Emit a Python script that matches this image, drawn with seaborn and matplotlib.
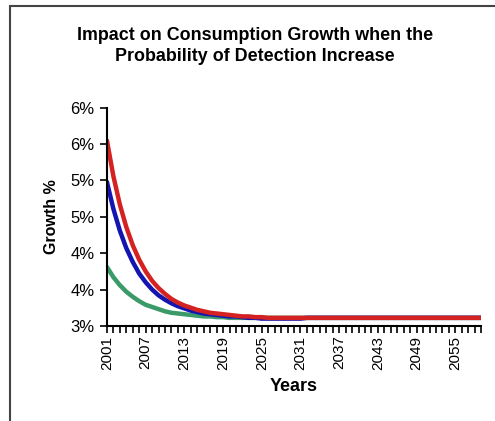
import matplotlib
matplotlib.use("Agg")
import matplotlib.pyplot as plt
import pandas as pd
import seaborn as sns
from matplotlib.patches import Rectangle
from matplotlib.ticker import FixedLocator, MultipleLocator

years = list(range(2001, 2060))

red_series = [
    5.55, 5.06, 4.67, 4.36, 4.11, 3.91, 3.75, 3.62, 3.52, 3.44,
    3.37, 3.32, 3.28, 3.25, 3.22, 3.20, 3.18, 3.17, 3.16, 3.15,
    3.14, 3.13, 3.13, 3.12, 3.12, 3.11, 3.11, 3.11, 3.11, 3.11,
    3.11, 3.11, 3.11, 3.11, 3.11, 3.11, 3.11, 3.11, 3.11, 3.11,
    3.11, 3.11, 3.11, 3.11, 3.11, 3.11, 3.11, 3.11, 3.11, 3.11,
    3.11, 3.11, 3.11, 3.11, 3.11, 3.11, 3.11, 3.11, 3.11,
]
blue_series = [
    4.98, 4.61, 4.31, 4.07, 3.88, 3.72, 3.60, 3.50, 3.42, 3.36,
    3.31, 3.27, 3.24, 3.21, 3.19, 3.17, 3.16, 3.15, 3.14, 3.13,
    3.13, 3.12, 3.11, 3.11, 3.10, 3.10, 3.10, 3.10, 3.10, 3.10,
    3.10, 3.11, 3.11, 3.11, 3.11, 3.11, 3.11, 3.11, 3.11, 3.11,
    3.11, 3.11, 3.11, 3.11, 3.11, 3.11, 3.11, 3.11, 3.11, 3.11,
    3.11, 3.11, 3.11, 3.11, 3.11, 3.11, 3.11, 3.11, 3.11,
]
green_series = [
    3.81, 3.67, 3.56, 3.47, 3.40, 3.34, 3.29, 3.26, 3.23, 3.20,
    3.18, 3.17, 3.16, 3.15, 3.14, 3.13, 3.13, 3.12, 3.12, 3.11,
    3.11, 3.11, 3.11, 3.11, 3.11, 3.11, 3.11, 3.11, 3.11, 3.11,
    3.11, 3.11, 3.11, 3.11, 3.11, 3.11, 3.11, 3.11, 3.11, 3.11,
    3.11, 3.11, 3.11, 3.11, 3.11, 3.11, 3.11, 3.11, 3.11, 3.11,
    3.11, 3.11, 3.11, 3.11, 3.11, 3.11, 3.11, 3.11, 3.11,
]

series_names = ["Green", "Blue", "Red"]
series_colors = ["#3a9a68", "#1414b0", "#d42222"]

y_ticks = [3.0, 3.5, 4.0, 4.5, 5.0, 5.5, 6.0]
y_tick_labels = ["3%", "4%", "4%", "5%", "5%", "6%", "6%"]
x_tick_years = [2001, 2007, 2013, 2019, 2025, 2031, 2037, 2043, 2049, 2055]

data = pd.DataFrame({
    "Year": years * 3,
    "Growth": green_series + blue_series + red_series,
    "Series": ["Green"] * len(years) + ["Blue"] * len(years) + ["Red"] * len(years),
})

sns.set_theme(style="white")
plt.rcParams["font.family"] = ["Liberation Sans", "DejaVu Sans"]
plt.rcParams["text.color"] = "black"
plt.rcParams["axes.labelcolor"] = "black"
plt.rcParams["xtick.color"] = "black"
plt.rcParams["ytick.color"] = "black"

fig = plt.figure(figsize=(4.95, 4.21), dpi=100)
ax = fig.add_axes([0.216, 0.226, 0.756, 0.518])

sns.lineplot(
    data=data,
    x="Year",
    y="Growth",
    hue="Series",
    hue_order=series_names,
    palette=series_colors,
    linewidth=3.2,
    legend=False,
    ax=ax,
)

ax.set_xlim(years[0], years[-1])
ax.set_ylim(y_ticks[0], y_ticks[-1])
ax.set_yticks(y_ticks)
ax.set_yticklabels(y_tick_labels, fontsize=12)
ax.xaxis.set_major_locator(FixedLocator(x_tick_years))
ax.xaxis.set_minor_locator(MultipleLocator(1))
ax.set_xticklabels([str(y) for y in x_tick_years], rotation=90, fontsize=11)

ax.tick_params(axis="y", which="major", direction="out", length=5, width=1.2,
               left=True, pad=4)
ax.tick_params(axis="x", which="major", direction="out", length=5, width=1.2,
               bottom=True, pad=2)
ax.tick_params(axis="x", which="minor", direction="out", length=5, width=1.2,
               bottom=True)

for side in ["top", "right"]:
    ax.spines[side].set_visible(False)
for side in ["left", "bottom"]:
    ax.spines[side].set_color("black")
    ax.spines[side].set_linewidth(1.5)

ax.set_xlabel("Years", fontsize=13, fontweight="bold", labelpad=6)
ax.set_ylabel("Growth %", fontsize=11.5, fontweight="bold", labelpad=8)

fig.text(0.515, 0.89, "Impact on Consumption Growth when the\nProbability of Detection Increase",
         ha="center", va="center", fontsize=12.9, fontweight="bold", linespacing=1.3)

frame = Rectangle((10 / 495, -0.1), 1.2, 1.1 - 6 / 421, transform=fig.transFigure,
                  fill=False, edgecolor="#444444", linewidth=1.5)
fig.patches.append(frame)

fig.savefig("out.png", dpi=100)
